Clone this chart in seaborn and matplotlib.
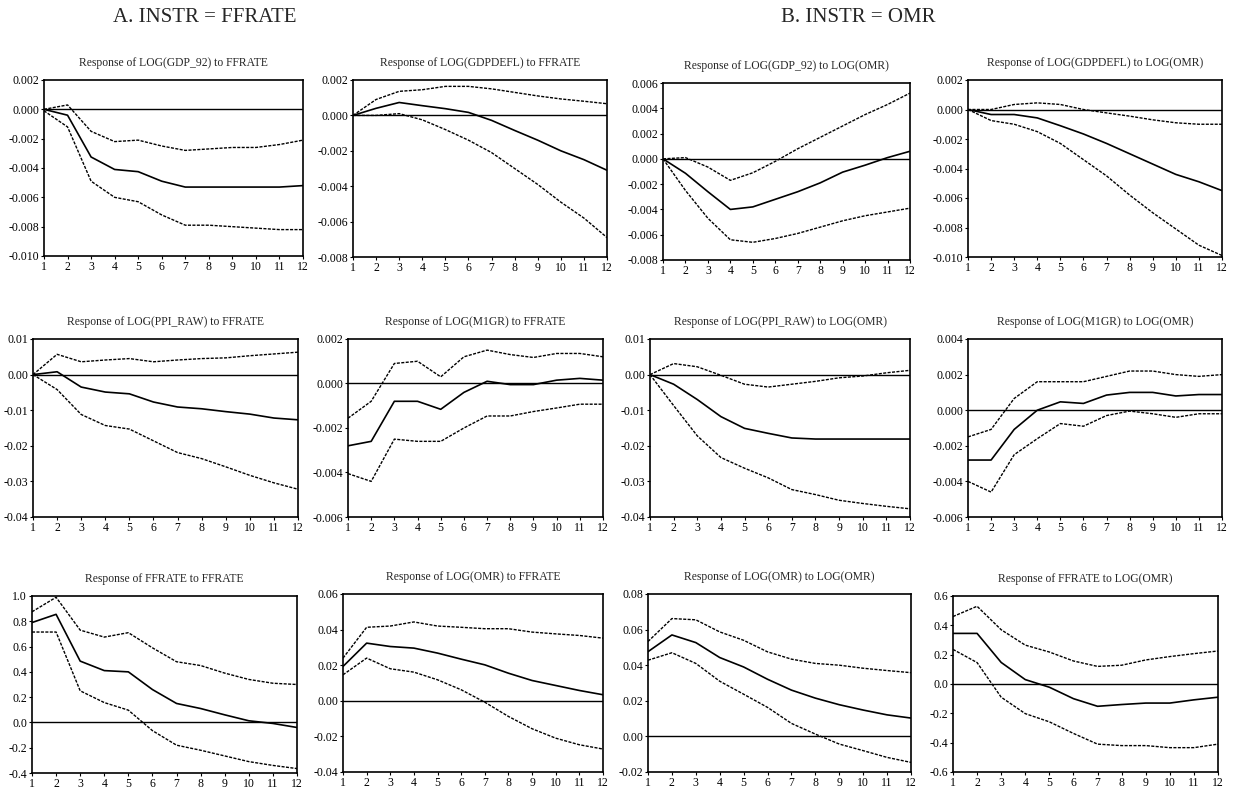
import numpy as np
import pandas as pd
import matplotlib
matplotlib.use("Agg")
import matplotlib.pyplot as plt
from matplotlib.ticker import FormatStrFormatter, MultipleLocator
import seaborn as sns

# impulse horizon (periods)
HORIZON = np.arange(1, 13)

# ── A. INSTR = FFRATE ────────────────────────────────────────
GDP_FF = [0.0, -0.0004, -0.00325, -0.0041, -0.00425, -0.0049, -0.0053, -0.0053, -0.0053, -0.0053, -0.0053, -0.0052]
GDP_FF_HI = [0.0, 0.0003, -0.0015, -0.0022, -0.0021, -0.0025, -0.0028, -0.0027, -0.0026, -0.0026, -0.0024, -0.0021]
GDP_FF_LO = [-0.0001, -0.0012, -0.0049, -0.0060, -0.0063, -0.0072, -0.0079, -0.0079, -0.0080, -0.0081, -0.0082, -0.0082]

DEF_FF = [0.0, 0.0004, 0.00073, 0.00055, 0.00038, 0.00017, -0.00028, -0.00085, -0.0014, -0.0020, -0.0025, -0.0031]
DEF_FF_HI = [0.0, 0.0009, 0.00136, 0.00145, 0.00164, 0.00164, 0.0015, 0.0013, 0.0011, 0.00093, 0.0008, 0.00066]
DEF_FF_LO = [0.0, 0.0, 0.0001, -0.00025, -0.0008, -0.0014, -0.0021, -0.0030, -0.0039, -0.0049, -0.0058, -0.0069]

PPI_FF = [0.0, 0.0008, -0.0035, -0.0049, -0.0054, -0.0077, -0.0091, -0.0096, -0.0104, -0.0111, -0.0122, -0.0127]
PPI_FF_HI = [0.0, 0.0057, 0.0036, 0.0041, 0.0045, 0.0036, 0.0041, 0.0045, 0.0047, 0.0053, 0.0058, 0.0063]
PPI_FF_LO = [0.0, -0.0042, -0.0112, -0.0143, -0.0153, -0.0186, -0.0219, -0.0236, -0.0259, -0.0283, -0.0304, -0.0322]

M1_FF = [-0.0028, -0.0026, -0.0008, -0.0008, -0.00116, -0.0004, 0.0001, -0.00005, -0.00005, 0.00015, 0.00023, 0.00015]
M1_FF_HI = [-0.00156, -0.0008, 0.0009, 0.0010, 0.0003, 0.0012, 0.0015, 0.0013, 0.00117, 0.00135, 0.00135, 0.0012]
M1_FF_LO = [-0.00405, -0.0044, -0.0025, -0.0026, -0.0026, -0.0020, -0.00146, -0.00146, -0.00126, -0.0011, -0.00093, -0.00093]

FF_FF = [0.79, 0.855, 0.485, 0.41, 0.40, 0.26, 0.15, 0.11, 0.06, 0.013, -0.008, -0.04]
FF_FF_HI = [0.875, 0.99, 0.73, 0.675, 0.71, 0.59, 0.48, 0.45, 0.39, 0.34, 0.31, 0.30]
FF_FF_LO = [0.715, 0.715, 0.25, 0.157, 0.097, -0.065, -0.18, -0.22, -0.265, -0.31, -0.34, -0.365]

OMR_FF = [0.0193, 0.0324, 0.0305, 0.0296, 0.0268, 0.0234, 0.0202, 0.0155, 0.0114, 0.0086, 0.0058, 0.0034]
OMR_FF_HI = [0.024, 0.0413, 0.042, 0.0443, 0.042, 0.0413, 0.0405, 0.0405, 0.0386, 0.0376, 0.0367, 0.0352]
OMR_FF_LO = [0.0146, 0.024, 0.018, 0.0161, 0.0118, 0.0062, -0.0008, -0.0088, -0.0157, -0.021, -0.0247, -0.0271]

# ── B. INSTR = OMR ───────────────────────────────────────────
GDP_OMR = [0.0, -0.00114, -0.0026, -0.0040, -0.0038, -0.0032, -0.0026, -0.0019, -0.00105, -0.0005, 0.0001, 0.0006]
GDP_OMR_HI = [0.0, 0.0001, -0.00065, -0.0017, -0.0011, -0.0002, 0.0008, 0.0017, 0.0026, 0.0035, 0.0043, 0.0052]
GDP_OMR_LO = [0.0, -0.0025, -0.0047, -0.0064, -0.0066, -0.0063, -0.0059, -0.0054, -0.0049, -0.0045, -0.0042, -0.0039]

DEF_OMR = [0.0, -0.00034, -0.00034, -0.00057, -0.0011, -0.00166, -0.0023, -0.0030, -0.0037, -0.0044, -0.0049, -0.0055]
DEF_OMR_HI = [0.0, 0.0, 0.00034, 0.00045, 0.00034, 0.0, -0.00023, -0.00045, -0.0007, -0.0009, -0.0010, -0.0010]
DEF_OMR_LO = [0.0, -0.00075, -0.0010, -0.0015, -0.0023, -0.0034, -0.0045, -0.0058, -0.0070, -0.0081, -0.0092, -0.0099]

PPI_OMR = [0.0, -0.0027, -0.0070, -0.0118, -0.0151, -0.0165, -0.0178, -0.0181, -0.0181, -0.0181, -0.0181, -0.0181]
PPI_OMR_HI = [0.0, 0.0031, 0.0022, -0.0002, -0.0027, -0.0035, -0.0027, -0.0019, -0.0009, -0.0004, 0.0005, 0.0012]
PPI_OMR_LO = [0.0, -0.0087, -0.0172, -0.0233, -0.0263, -0.0290, -0.0323, -0.0337, -0.0353, -0.0362, -0.0370, -0.0377]

M1_OMR = [-0.0028, -0.0028, -0.00108, 0.0, 0.00047, 0.00038, 0.00085, 0.0010, 0.0010, 0.0008, 0.00088, 0.00088]
M1_OMR_HI = [-0.0015, -0.00108, 0.00066, 0.0016, 0.0016, 0.0016, 0.0019, 0.0022, 0.0022, 0.0020, 0.0019, 0.0020]
M1_OMR_LO = [-0.0040, -0.0046, -0.0025, -0.0016, -0.00075, -0.0009, -0.0003, -0.00005, -0.0002, -0.0004, -0.0002, -0.0002]

OMR_OMR = [0.0476, 0.057, 0.0527, 0.0443, 0.039, 0.0321, 0.026, 0.0215, 0.0178, 0.0148, 0.0121, 0.0103]
OMR_OMR_HI = [0.0533, 0.0662, 0.0655, 0.0587, 0.054, 0.0475, 0.0434, 0.041, 0.040, 0.0383, 0.037, 0.0358]
OMR_OMR_LO = [0.0428, 0.047, 0.041, 0.031, 0.0237, 0.0163, 0.0073, 0.0013, -0.0043, -0.008, -0.0118, -0.0146]

FF_OMR = [0.345, 0.345, 0.147, 0.03, -0.022, -0.10, -0.152, -0.14, -0.13, -0.13, -0.108, -0.09]
FF_OMR_HI = [0.46, 0.53, 0.37, 0.265, 0.218, 0.157, 0.12, 0.128, 0.164, 0.187, 0.207, 0.225]
FF_OMR_LO = [0.236, 0.146, -0.09, -0.202, -0.258, -0.337, -0.41, -0.42, -0.42, -0.434, -0.434, -0.41]

# panel titles, in the order they are laid out (row by row)
TITLES = [
    "Response of LOG(GDP_92) to FFRATE", "Response of LOG(GDPDEFL) to FFRATE",
    "Response of LOG(GDP_92) to LOG(OMR)", "Response of LOG(GDPDEFL) to LOG(OMR)",
    "Response of LOG(PPI_RAW) to FFRATE", "Response of LOG(M1GR) to FFRATE",
    "Response of LOG(PPI_RAW) to LOG(OMR)", "Response of LOG(M1GR) to LOG(OMR)",
    "Response of FFRATE to FFRATE", "Response of LOG(OMR) to FFRATE",
    "Response of LOG(OMR) to LOG(OMR)", "Response of FFRATE to LOG(OMR)",
]
SERIES = [
    (GDP_FF, GDP_FF_HI, GDP_FF_LO), (DEF_FF, DEF_FF_HI, DEF_FF_LO),
    (GDP_OMR, GDP_OMR_HI, GDP_OMR_LO), (DEF_OMR, DEF_OMR_HI, DEF_OMR_LO),
    (PPI_FF, PPI_FF_HI, PPI_FF_LO), (M1_FF, M1_FF_HI, M1_FF_LO),
    (PPI_OMR, PPI_OMR_HI, PPI_OMR_LO), (M1_OMR, M1_OMR_HI, M1_OMR_LO),
    (FF_FF, FF_FF_HI, FF_FF_LO), (OMR_FF, OMR_FF_HI, OMR_FF_LO),
    (OMR_OMR, OMR_OMR_HI, OMR_OMR_LO), (FF_OMR, FF_OMR_HI, FF_OMR_LO),
]
# y range, tick step, tick format
Y_AXES = [
    (-0.010, 0.002, 0.002, '%.3f'), (-0.008, 0.002, 0.002, '%.3f'),
    (-0.008, 0.006, 0.002, '%.3f'), (-0.010, 0.002, 0.002, '%.3f'),
    (-0.04, 0.01, 0.01, '%.2f'), (-0.006, 0.002, 0.002, '%.3f'),
    (-0.04, 0.01, 0.01, '%.2f'), (-0.006, 0.004, 0.002, '%.3f'),
    (-0.4, 1.0, 0.2, '%.1f'), (-0.04, 0.06, 0.02, '%.2f'),
    (-0.02, 0.08, 0.02, '%.2f'), (-0.6, 0.6, 0.2, '%.1f'),
]

# axes boxes in pixels: left, right, top, bottom
BOXES = [
    (44, 303, 80, 256), (353, 607, 80, 257), (663, 910, 83, 260), (968, 1222, 80, 257),
    (33, 298, 339, 517), (348, 603, 339, 517), (650, 910, 339, 517), (968, 1222, 339, 517),
    (32, 297, 596, 773), (343, 603, 594, 772), (648, 911, 594, 772), (953, 1218, 596, 772),
]

W, H = 1240, 793

sns.set_style("white")
plt.rcParams['font.family'] = ['Liberation Serif', 'DejaVu Serif']
plt.rcParams['axes.unicode_minus'] = False

fig = plt.figure(figsize=(W / 100, H / 100), dpi=100)
fig.patch.set_facecolor('white')

DASH = (0, (2.2, 1.0))

for title, (irf, hi, lo), (ymin, ymax, step, fmt), (l, r, t, b) in zip(TITLES, SERIES, Y_AXES, BOXES):
    ax = fig.add_axes([l / W, 1 - b / H, (r - l) / W, (b - t) / H])
    df = pd.DataFrame({'period': HORIZON, 'irf': irf, 'hi': hi, 'lo': lo})

    ax.axhline(0, color='black', lw=1.0, zorder=1)
    sns.lineplot(data=df, x='period', y='hi', ax=ax, color='black', lw=1.0, linestyle=DASH)
    sns.lineplot(data=df, x='period', y='lo', ax=ax, color='black', lw=1.0, linestyle=DASH)
    sns.lineplot(data=df, x='period', y='irf', ax=ax, color='black', lw=1.2)

    ax.set_xlim(1, 12)
    ax.set_ylim(ymin, ymax)
    ax.set_xticks(HORIZON)
    ax.yaxis.set_major_locator(MultipleLocator(step))
    ax.yaxis.set_major_formatter(FormatStrFormatter(fmt))
    ax.set_xlabel('')
    ax.set_ylabel('')
    ax.tick_params(axis='both', labelsize=8.5, length=2, width=0.8, pad=1.5,
                   direction='out', colors='black')
    ax.tick_params(left=True, bottom=True)
    for sp in ax.spines.values():
        sp.set_color('black')
        sp.set_linewidth(1.2)
    ax.set_title(title, fontsize=8.4, pad=10)

fig.text(205 / W, 1 - 18 / H, 'A. INSTR = FFRATE', ha='center', va='center', fontsize=15)
fig.text(858 / W, 1 - 18 / H, 'B. INSTR = OMR', ha='center', va='center', fontsize=15)

fig.savefig('out.png', dpi=100, facecolor='white')
